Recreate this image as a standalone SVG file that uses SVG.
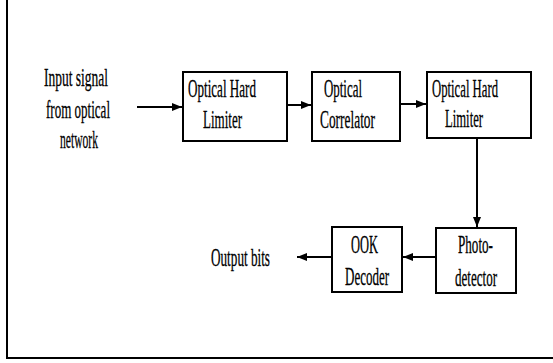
<svg xmlns="http://www.w3.org/2000/svg" width="553" height="363" viewBox="0 0 553 363">
<defs>
<style>
.box{fill:#fff;stroke:#000;stroke-width:2}
.ln{fill:none;stroke:#000;stroke-width:2}
.t{font-family:"Liberation Serif","Times New Roman",serif;font-size:25px;fill:#000;stroke:#000;stroke-width:0.3}
</style>
<marker id="ah" viewBox="0 0 10 8" markerWidth="10" markerHeight="8" refX="10" refY="4" orient="auto" markerUnits="userSpaceOnUse">
<path d="M0,0 L10,4 L0,8 Z" fill="#000"/>
</marker>
</defs>
<rect width="553" height="363" fill="#fff"/>
<path class="ln" d="M7,-2 V358 H556" stroke-width="2.5"/>
<g id="input-label">
<text class="t" x="44" y="86" textLength="64" lengthAdjust="spacingAndGlyphs">Input signal</text>
<text class="t" x="46" y="118" textLength="64" lengthAdjust="spacingAndGlyphs">from optical</text>
<text class="t" x="60" y="148" textLength="38" lengthAdjust="spacingAndGlyphs">network</text>
</g>
<g id="hard-limiter-1">
<rect class="box" x="183" y="72" width="104" height="69"/>
<text class="t" x="188" y="97" textLength="68" lengthAdjust="spacingAndGlyphs">Optical Hard</text>
<text class="t" x="203" y="128" textLength="39" lengthAdjust="spacingAndGlyphs">Limiter</text>
</g>
<g id="correlator">
<rect class="box" x="312" y="72" width="88" height="69"/>
<text class="t" x="324" y="97" textLength="38" lengthAdjust="spacingAndGlyphs">Optical</text>
<text class="t" x="320" y="128" textLength="55" lengthAdjust="spacingAndGlyphs">Correlator</text>
</g>
<g id="hard-limiter-2">
<rect class="box" x="427" y="72" width="104" height="66"/>
<text class="t" x="432" y="97" textLength="66" lengthAdjust="spacingAndGlyphs">Optical Hard</text>
<text class="t" x="445" y="127" textLength="38" lengthAdjust="spacingAndGlyphs">Limiter</text>
</g>
<g id="photodetector">
<rect class="box" x="436" y="228" width="80" height="65"/>
<text class="t" x="458" y="253" textLength="35" lengthAdjust="spacingAndGlyphs">Photo-</text>
<text class="t" x="455" y="286" textLength="42" lengthAdjust="spacingAndGlyphs">detector</text>
</g>
<g id="ook-decoder">
<rect class="box" x="332" y="227" width="70" height="65"/>
<text class="t" x="351" y="253" textLength="27" lengthAdjust="spacingAndGlyphs">OOK</text>
<text class="t" x="345" y="285" textLength="44" lengthAdjust="spacingAndGlyphs">Decoder</text>
</g>
<g id="output-label">
<text class="t" x="211" y="266" textLength="59" lengthAdjust="spacingAndGlyphs">Output bits</text>
</g>
<g id="connectors">
<line class="ln" x1="137" y1="107" x2="182" y2="107" marker-end="url(#ah)"/>
<line class="ln" x1="288" y1="105" x2="311" y2="105" marker-end="url(#ah)"/>
<line class="ln" x1="401" y1="104" x2="426" y2="104" marker-end="url(#ah)"/>
<line class="ln" x1="477" y1="139" x2="477" y2="227" marker-end="url(#ah)"/>
<line class="ln" x1="435" y1="257" x2="403" y2="257" marker-end="url(#ah)"/>
<line class="ln" x1="331" y1="257" x2="297" y2="257" marker-end="url(#ah)"/>
</g>
</svg>
